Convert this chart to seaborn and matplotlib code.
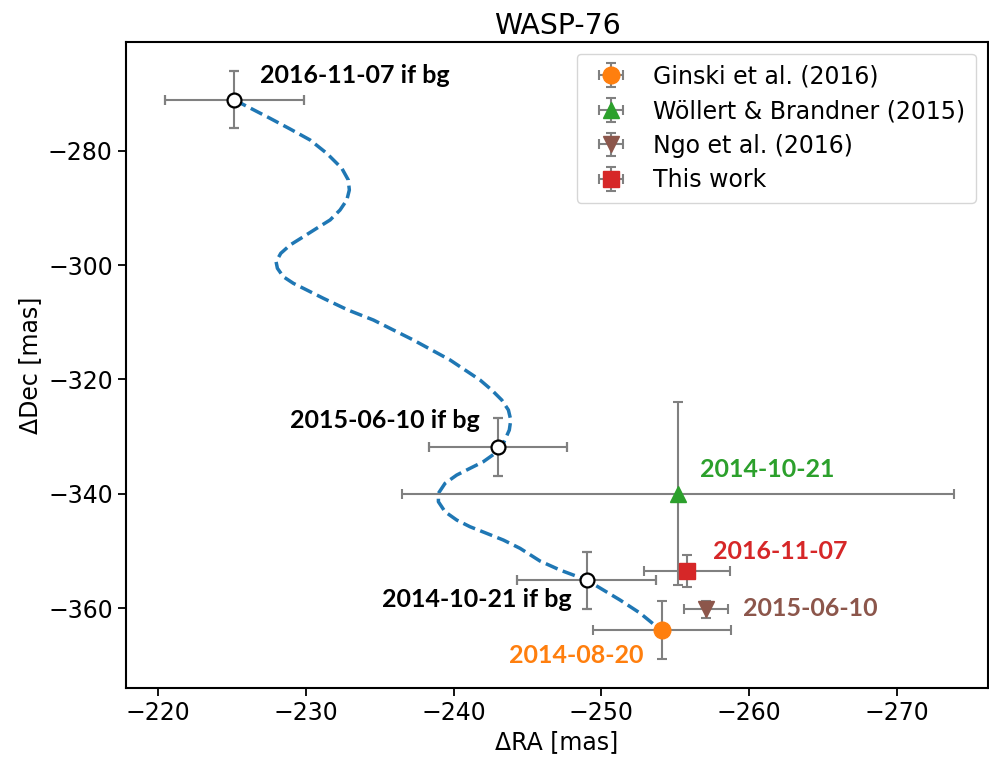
import numpy as np
import pandas as pd
import seaborn as sns
import matplotlib
matplotlib.use("Agg")
import matplotlib.pyplot as plt

# background track
track_ra = [-225.15, -226.34, -227.56, -228.92, -230.27, -231.40, -232.42, -232.86, -232.93, -232.76,
            -232.30, -231.63, -230.72, -229.82, -228.92, -228.29, -227.97, -228.06, -228.46, -229.14,
            -230.05, -231.17, -232.84, -234.56, -237.26, -239.75, -241.78, -242.57, -243.25, -243.70,
            -243.86, -243.76, -243.36, -242.80, -242.00, -241.10, -240.20, -239.41, -238.96, -238.96,
            -239.41, -240.20, -241.10, -242.23, -243.36, -244.49, -245.84, -247.20, -249.00, -251.26,
            -252.61, -253.74, -254.08]
track_dec = [-271.11, -272.69, -274.32, -276.19, -278.11, -280.44, -283.06, -285.11, -286.86, -288.61,
             -290.36, -292.10, -293.56, -295.03, -296.48, -297.93, -299.40, -300.55, -302.02, -303.18,
             -304.35, -305.80, -307.85, -309.60, -313.09, -316.59, -320.09, -321.84, -323.59, -325.34,
             -327.09, -328.84, -331.16, -332.91, -334.38, -335.54, -336.71, -338.16, -339.91, -341.38,
             -343.13, -344.58, -345.75, -346.91, -348.08, -349.53, -351.75, -353.33, -355.07, -358.57,
             -360.85, -363.24, -363.82]

# "if bg" positions
bg_labels = ["2016-11-07 if bg", "2015-06-10 if bg", "2014-10-21 if bg"]
bg_ra = [-225.15, -243.0, -249.0]
bg_dec = [-271.1, -331.8, -355.1]
bg_ra_err = [4.7, 4.7, 4.7]
bg_dec_err = [5.0, 5.0, 5.0]

# measurements
names = ["Ginski et al. (2016)", "Wöllert & Brandner (2015)", "Ngo et al. (2016)", "This work"]
dates = ["2014-08-20", "2014-10-21", "2015-06-10", "2016-11-07"]
ra = [-254.1, -255.2, -257.07, -255.8]
dec = [-363.8, -340.0, -360.2, -353.5]
ra_err = [4.7, 18.7, 1.5, 2.9]
dec_err = [5.0, 16.0, 1.5, 2.8]
colors = ["#ff7f0e", "#2ca02c", "#8c564b", "#d62728"]
markers = ["o", "^", "v", "s"]

sns.set_style("ticks")
plt.rcParams["font.family"] = ["DejaVu Sans"]
plt.rcParams["font.size"] = 17
for k in ["text.color", "axes.labelcolor", "xtick.color", "ytick.color", "axes.edgecolor"]:
    plt.rcParams[k] = "black"

fig, ax = plt.subplots(figsize=(9.89, 7.63), dpi=100)
fig.subplots_adjust(left=0.1274, right=0.999, top=0.945, bottom=0.0987)

track = pd.DataFrame({"ra": track_ra, "dec": track_dec})
sns.lineplot(data=track, x="ra", y="dec", sort=False, estimator=None,
             color="#1f77b4", lw=2.5, ls="--", ax=ax, zorder=2)

ebkw = dict(ecolor="gray", elinewidth=1.5, capsize=3.4, capthick=1.5)

for i in range(len(bg_ra)):
    ax.errorbar(bg_ra[i], bg_dec[i], xerr=bg_ra_err[i], yerr=bg_dec_err[i], fmt="o",
                mfc="white", mec="black", mew=1.6, ms=10, zorder=3, **ebkw)

for i in range(len(names)):
    ax.errorbar(ra[i], dec[i], xerr=ra_err[i], yerr=dec_err[i], fmt=markers[i],
                color=colors[i], ms=12, label=names[i], zorder=4, **ebkw)

lab = dict(fontfamily="Lato", fontweight="bold", fontsize=18, va="center")
ax.text(-226.89, -266.9, bg_labels[0], ha="left", color="black", **lab)
ax.text(-241.78, -327.1, bg_labels[1], ha="right", color="black", **lab)
ax.text(-247.99, -358.4, bg_labels[2], ha="right", color="black", **lab)
ax.text(-252.84, -368.2, dates[0], ha="right", color=colors[0], **lab)
ax.text(-256.68, -335.8, dates[1], ha="left", color=colors[1], **lab)
ax.text(-259.61, -360.0, dates[2], ha="left", color=colors[2], **lab)
ax.text(-257.54, -350.1, dates[3], ha="left", color=colors[3], **lab)

ax.set_xlim(-217.81, -276.17)
ax.set_ylim(-373.9, -260.97)
ax.set_xticks([-220, -230, -240, -250, -260, -270])
ax.set_yticks([-280, -300, -320, -340, -360])
ax.set_xlabel("ΔRA [mas]")
ax.set_ylabel("ΔDec [mas]")
ax.set_title("WASP-76")
for s in ax.spines.values():
    s.set_visible(True)
    s.set_color("black")
    s.set_linewidth(1.5)
ax.tick_params(direction="out", length=6, width=1.3, color="black", labelcolor="black")

ax.legend(loc="upper right", fontsize=17, frameon=True, borderpad=0.45, labelspacing=0.45)

fig.savefig("out.png", dpi=100)
